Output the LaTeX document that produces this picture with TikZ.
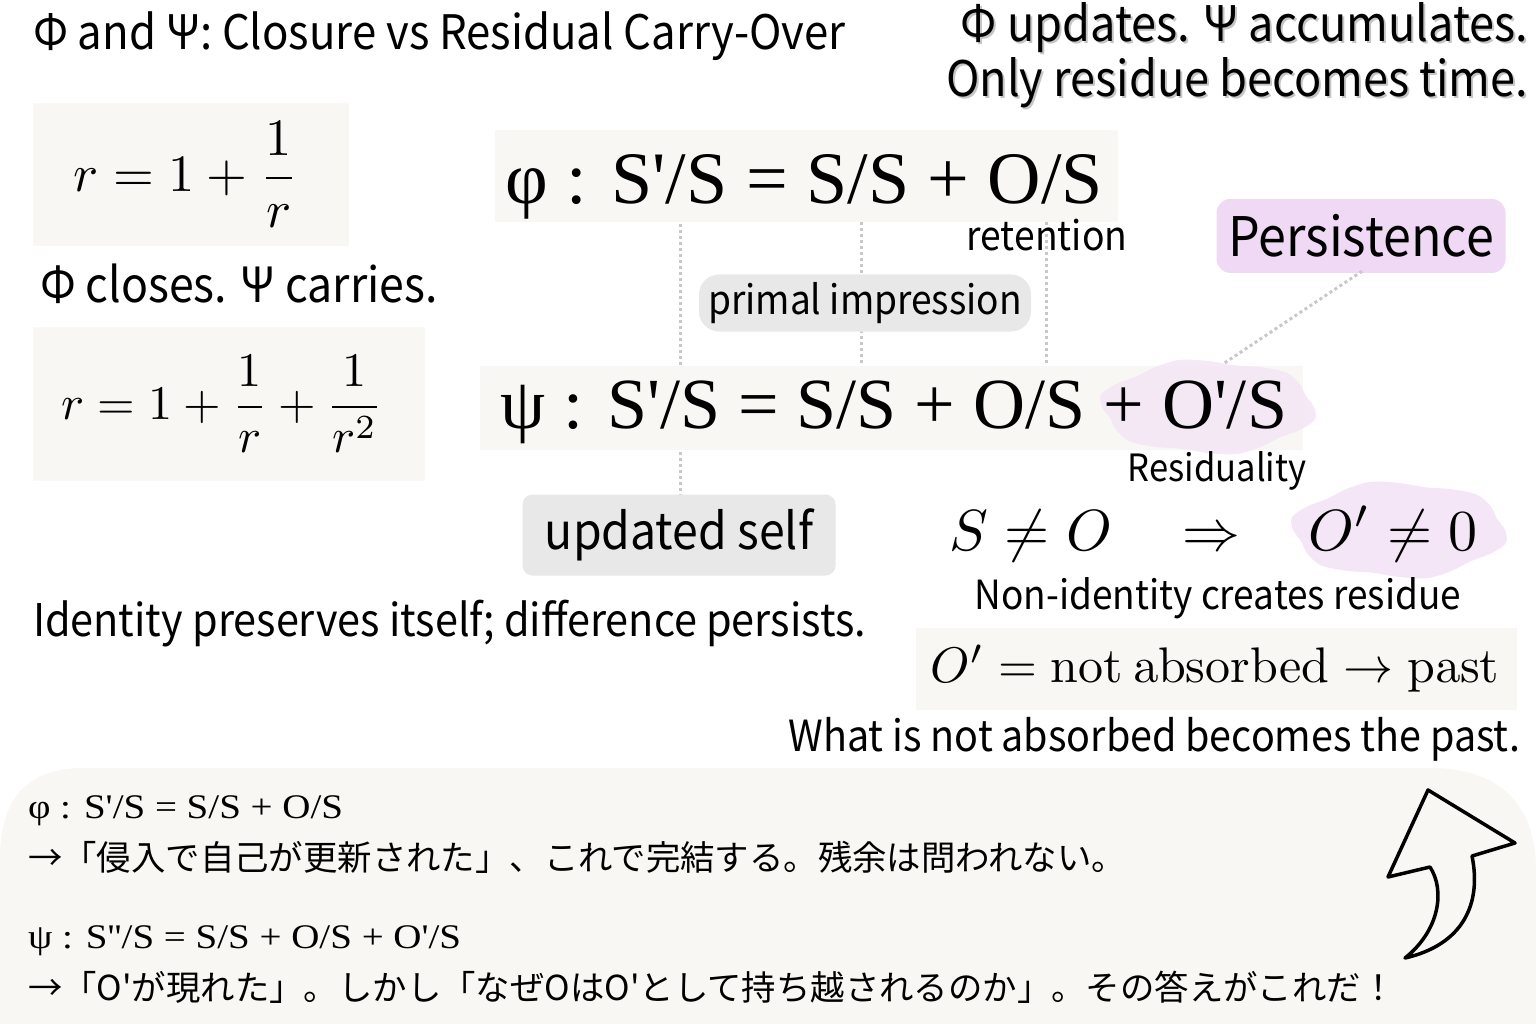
\documentclass[tikz,border=0pt]{standalone}
\usepackage[no-math]{fontspec}
\setmainfont{Noto Sans CJK JP}[Ligatures=TeXOff, FakeStretch=0.92]
\newfontfamily\jpfont{Noto Sans CJK JP}[Ligatures=TeXOff]
\newfontfamily\serifjp{Liberation Serif}[Ligatures=TeXOff]
\usetikzlibrary{calc}
\definecolor{beige}{HTML}{F8F7F3}
\definecolor{chip}{HTML}{E8E8E8}
\definecolor{persist}{HTML}{EFD9F5}
\definecolor{blobc}{HTML}{F4E6F6}
\definecolor{dotc}{HTML}{C8C8C8}
\tikzset{
  fbox/.style={fill=beige, draw=none, inner sep=0pt, anchor=north west},
  chipbox/.style={fill=chip, rounded corners=10pt, inner sep=0pt},
  dotline/.style={draw=dotc, line width=3pt, dash pattern=on 3pt off 3pt},
  txt/.style={inner sep=0pt, outer sep=0pt},
  shadowtxt/.style={txt, text=black!50, opacity=0.45},
}
\newcommand\fs[1]{\fontsize{#1}{#1}\selectfont}
\begin{document}
\begin{tikzpicture}[x=1pt,y=-1pt]
\useasboundingbox (0,0) rectangle (1536,1024);
\fill[white] (0,0) rectangle (1536,1024);

% dotted connectors (behind)
\coordinate (d1a) at (680,212);
\coordinate (d1b) at (680,500);
\coordinate (d2a) at (861,222);
\coordinate (d2b) at (861,366);
\coordinate (d3a) at (1046,210);
\coordinate (d3b) at (1046,366);
\draw[dotline] (d1a) -- (d1b);
\draw[dotline] (d2a) -- (d2b);
\draw[dotline] (d3a) -- (d3b);

% titles
\node[txt, anchor=base west, font=\fs{47.5}] (title) at (33,50) {Φ and Ψ: Closure vs Residual Carry-Over};
\node[shadowtxt, anchor=base east, font=\fs{49}] (trs1) at (1530,44) {Φ updates. Ψ accumulates.};
\node[shadowtxt, anchor=base east, font=\fs{49}] (trs2) at (1530,99) {Only residue becomes time.};
\node[txt, anchor=base east, font=\fs{49}] (tr1) at (1528,42) {Φ updates. Ψ accumulates.};
\node[txt, anchor=base east, font=\fs{49}] (tr2) at (1528,97) {Only residue becomes time.};

% formula boxes left
\node[fbox, anchor=center, minimum width=316pt, minimum height=143pt] (box1) at (191,174.5)
  {\scalebox{5.25}{$\displaystyle r=1+\frac{1}{r}$}\kern10pt};
\node[txt, anchor=base west, font=\fs{48.5}] (closes) at (40,302) {Φ closes. Ψ carries.};
\node[fbox, anchor=center, minimum width=392pt, minimum height=154pt] (box2) at (229,404)
  {\scalebox{4.83}{$\displaystyle r=1+\frac{1}{r}+\frac{1}{r^2}$}\kern14pt};

% phi and psi equations
\node[fbox, minimum width=623pt, minimum height=92pt] (phibox) at (495,130) {};
\node[txt, anchor=base west, font=\serifjp\fs{74}] (phi) at (505,204) {φ : S'/S = S/S + O/S};

\node[fbox, minimum width=823pt, minimum height=84pt] (psibox) at (480,366) {};
\path[fill=blobc, opacity=0.85] plot[smooth cycle, domain=0:345, samples=24, variable=\t]
  ({1208+106*(1+0.045*sin(6*\t))*cos(\t)}, {407+46*(1+0.06*sin(6*\t))*sin(\t)});
\node[txt, anchor=base west, font=\serifjp\fs{72}] (psi) at (500,428) {ψ : S'/S = S/S + O/S + O'/S};

% labels
\node[txt, anchor=base, font=\fs{40.5}] (ret) at (1047,251) {retention};
\node[chipbox, rounded corners=20pt, minimum width=332pt, minimum height=57pt, font=\fs{40.3}] (prim) at (865,303) {primal impression};
\node[fill=persist, rounded corners=14pt, minimum width=289pt, minimum height=74pt, inner sep=0pt, font=\fs{54.5}] (pers) at (1361,236) {Persistence};
\coordinate (pblob) at (1223,364);
\draw[dotline] ($(pers.south)+(1,-2)$) -- (pblob);
\node[txt, font=\fs{37.6}] (resid) at (1217,471) {Residuality};

\node[chipbox, minimum width=313pt, minimum height=81pt, font=\fs{50.4}] (upd) at (679,535) {updated self};
\node[txt, anchor=base west, font=\fs{45}] (ident) at (33,636) {Identity preserves itself; difference persists.};

% implication
\path[fill=blobc] plot[smooth cycle, domain=0:345, samples=24, variable=\t]
  ({1399+106*(1+0.045*sin(6*\t))*cos(\t)}, {530+47*(1+0.06*sin(6*\t))*sin(\t)});
\node[txt, anchor=base] (sneq) at (1031,550) {\scalebox{5.8}{$S\neq O$}};
\node[txt, anchor=base] (impl) at (1211,550) {\scalebox{5.8}{$\Rightarrow$}};
\node[txt, anchor=base] (oneq) at (1393,550) {\scalebox{5.8}{$O'\neq 0$}};
\node[txt, font=\fs{40.2}] (nonid) at (1218,598) {Non-identity creates residue};
\node[fbox, anchor=center, minimum width=601pt, minimum height=82pt] (pastbox) at (1216.5,669)
  {\scalebox{5.0}{$O'=\mathrm{not\ absorbed}\rightarrow\mathrm{past}$}\kern3pt};
\node[txt, anchor=base east, font=\fs{42.9}] (what) at (1520,751) {What is not absorbed becomes the past.};

% bottom panel
\path[fill=beige] (0,1024) -- (0,860) .. controls (0,800) and (25,768) .. (85,768)
  -- (1430,768) .. controls (1500,768) and (1536,805) .. (1536,870) -- (1536,1024) -- cycle;
\node[txt, anchor=base west, font=\serifjp\fs{34.5}] (b1) at (28,818) {\scalebox{1.13}[1]{φ : S'/S = S/S + O/S}};
\node[txt, anchor=base west, font=\jpfont\fs{34.4}] (b2) at (28,870) {→「侵入で自己が更新された」、これで完結する。残余は問われない。};
\node[txt, anchor=base west, font=\serifjp\fs{34.5}] (b3) at (28,948) {\scalebox{1.13}[1]{ψ : S''/S = S/S + O/S + O'/S}};
\node[txt, anchor=base west, font=\jpfont\fs{34.4}] (b4) at (28,1000) {→「O'が現れた」。しかし「なぜOはO'として持ち越されるのか」。その答えがこれだ！};

% hand-drawn arrow
\draw[line width=3.5pt, line join=round, fill=beige]
  (1428,790) -- (1515,843) -- (1472,856)
  .. controls (1482,905) and (1462,945) .. (1405,958)
  .. controls (1440,930) and (1445,890) .. (1430,867)
  -- (1388,877) -- cycle;
\end{tikzpicture}
\end{document}
